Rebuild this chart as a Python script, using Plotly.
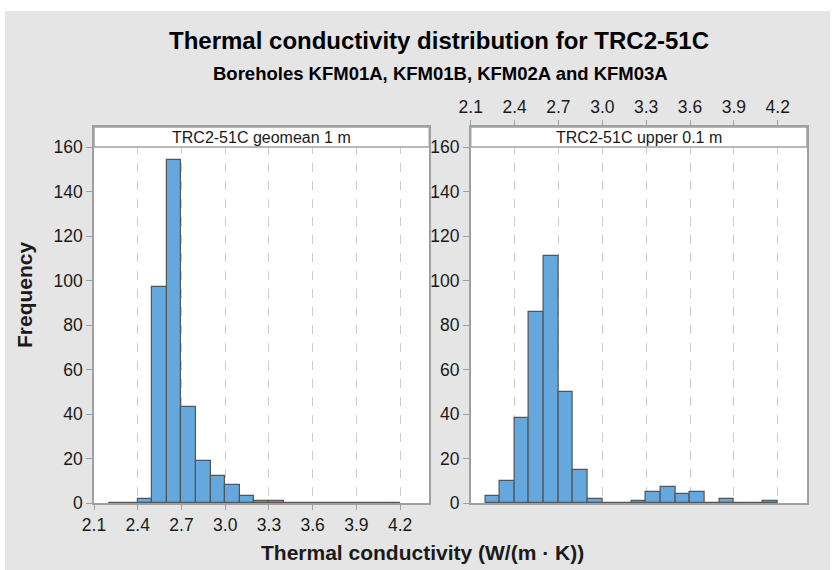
import plotly.graph_objects as go

# ---- data ----
bin_edges = [round(2.2 + 0.1 * i, 1) for i in range(21)]  # 2.2 ... 4.2
counts_geomean = [0, 0, 2, 97, 154, 43, 19, 12, 8, 3, 1, 1, 0, 0, 0, 0, 0, 0, 0, 0]
counts_upper = [3, 10, 38, 86, 111, 50, 15, 2, 0, 0, 1, 5, 7, 4, 5, 0, 2, 0, 0, 1]
panel_titles = ["TRC2-51C geomean 1 m", "TRC2-51C upper 0.1 m"]
x_ticks = [2.1, 2.4, 2.7, 3.0, 3.3, 3.6, 3.9, 4.2]
x_ticktext = ["2.1", "2.4", "2.7", "3.0", "3.3", "3.6", "3.9", "4.2"]
y_ticks = [0, 20, 40, 60, 80, 100, 120, 140, 160]

title = "Thermal conductivity distribution for TRC2-51C"
subtitle = "Boreholes KFM01A, KFM01B, KFM02A and KFM03A"
x_title = "Thermal conductivity (W/(m \u00b7 K))"
y_title = "Frequency"

# ---- styling ----
W, H = 837, 570
ML, MR, MT, MB = 94, 30, 127, 67
PW = W - ML - MR
PH = H - MT - MB
data_h = 356
strip_y0 = data_h / PH
ymax = 160 * PH / data_h
FONT = "Liberation Sans, Arial, sans-serif"
BAR_FILL = "#64a8dd"
BAR_LINE = "#555555"
FRAME = "#a0a0a0"
BG = "#e5e5e5"
TXT = "#1a1a1a"

dom_left = [0, (429.3 - ML) / PW]
dom_right = [(470.7 - ML) / PW, 1]

fig = go.Figure()

centers = [(bin_edges[i] + bin_edges[i + 1]) / 2 for i in range(len(bin_edges) - 1)]
widths = [bin_edges[i + 1] - bin_edges[i] for i in range(len(bin_edges) - 1)]

for counts, xa, ya in [(counts_geomean, "x", "y"), (counts_upper, "x2", "y2")]:
    fig.add_trace(go.Bar(
        x=centers, y=counts, width=widths, xaxis=xa, yaxis=ya,
        marker=dict(color=BAR_FILL, line=dict(color=BAR_LINE, width=1.2)),
        showlegend=False, hoverinfo="x+y",
    ))
    # zero-count bins drawn as outline along the baseline
    zx, zy = [], []
    for i, c in enumerate(counts):
        if c == 0:
            zx += [bin_edges[i], bin_edges[i + 1], None]
            zy += [0, 0, None]
    fig.add_trace(go.Scatter(
        x=zx, y=zy, xaxis=xa, yaxis=ya, mode="lines",
        line=dict(color=BAR_LINE, width=2), showlegend=False, hoverinfo="skip",
        cliponaxis=False,
    ))

common_x = dict(
    range=[2.1, 4.4], tickvals=x_ticks, ticktext=x_ticktext,
    showgrid=True, gridcolor="#cccccc", griddash="dash", gridwidth=1,
    showline=True, linecolor=FRAME, linewidth=1.5, mirror=True,
    ticks="outside", ticklen=5, tickcolor=FRAME,
    tickfont=dict(size=17.5, color=TXT, family=FONT), zeroline=False,
)
common_y = dict(
    range=[0, ymax], tickvals=y_ticks, showgrid=False,
    showline=True, linecolor=FRAME, linewidth=1.5, mirror=True,
    ticks="outside", ticklen=6, tickcolor=FRAME,
    tickfont=dict(size=17.5, color=TXT, family=FONT), zeroline=False,
)

fig.update_layout(
    width=W, height=H,
    margin=dict(l=ML, r=MR, t=MT, b=MB, pad=0),
    paper_bgcolor="white", plot_bgcolor="white",
    bargap=0,
    font=dict(family=FONT, color=TXT),
    xaxis=dict(domain=dom_left, anchor="y", side="bottom", **common_x),
    yaxis=dict(domain=[0, 1], anchor="x", **common_y),
    xaxis2=dict(domain=dom_right, anchor="y2", side="top", **common_x),
    yaxis2=dict(domain=[0, 1], anchor="x2", **common_y),
)

shapes = [
    # gray outer background
    dict(type="rect", xref="paper", yref="paper",
         x0=(5 - ML) / PW, x1=(830 - ML) / PW,
         y0=(MT + PH - 575) / PH, y1=(MT + PH - 11) / PH,
         fillcolor=BG, line=dict(width=0), layer="below"),
]
for xa, ya in [("x", "y"), ("x2", "y2")]:
    shapes.append(dict(type="rect", xref=f"{xa} domain", yref=f"{ya} domain",
                       x0=0, x1=1, y0=0, y1=1, fillcolor="white",
                       line=dict(width=0), layer="below"))
    shapes.append(dict(type="rect", xref=f"{xa} domain", yref=f"{ya} domain",
                       x0=0, x1=1, y0=strip_y0, y1=1, fillcolor="white",
                       line=dict(color=FRAME, width=1.5), layer="above"))
fig.update_layout(shapes=shapes)

ann = []
for (xa, ya), txt in zip([("x", "y"), ("x2", "y2")], panel_titles):
    ann.append(dict(text=txt, xref=f"{xa} domain", yref=f"{ya} domain",
                    x=0.5, y=(strip_y0 + 1) / 2, showarrow=False,
                    xanchor="center", yanchor="middle",
                    font=dict(size=16, color=TXT, family=FONT)))


def py(p):
    return (MT + PH - p) / PH


def px(p):
    return (p - ML) / PW


ann += [
    dict(text=f"<b>{title}</b>", xref="paper", yref="paper", x=px(439), y=py(41),
         showarrow=False, xanchor="center", yanchor="middle",
         font=dict(size=24, color="black", family=FONT)),
    dict(text=f"<b>{subtitle}</b>", xref="paper", yref="paper", x=px(440), y=py(73),
         showarrow=False, xanchor="center", yanchor="middle",
         font=dict(size=18.5, color="black", family=FONT)),
    dict(text=f"<b>{x_title}</b>", xref="paper", yref="paper", x=px(422), y=py(552),
         showarrow=False, xanchor="center", yanchor="middle",
         font=dict(size=21, color=TXT, family=FONT)),
    dict(text=f"<b>{y_title}</b>", xref="paper", yref="paper", x=px(24), y=py(295),
         showarrow=False, xanchor="center", yanchor="middle", textangle=-90,
         font=dict(size=21, color=TXT, family=FONT)),
]
fig.update_layout(annotations=ann)

fig.write_html("out.html")
